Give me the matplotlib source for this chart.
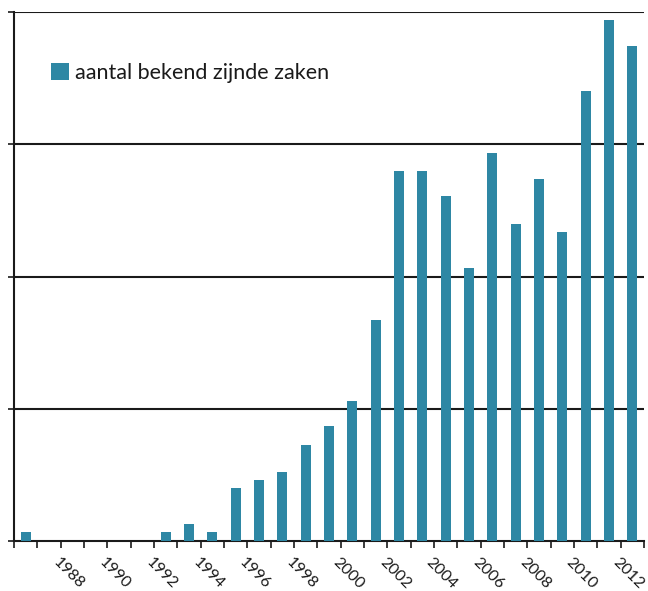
import matplotlib
matplotlib.use("Agg")
import matplotlib.pyplot as plt
import matplotlib.transforms as mtransforms

years = list(range(1986, 2013))
values = [3.4, 0, 0, 0, 0, 0, 3.4, 6.4, 3.4, 20, 23, 26, 36.4, 43.6, 53,
          83.7, 140, 140, 130.3, 103.4, 146.6, 120, 137, 116.7, 170, 197, 187]
label_years = list(range(1988, 2013, 2))
legend_label = "aantal bekend zijnde zaken"
bar_color = "#2e87a4"

plt.rcParams['font.family'] = ['Lato', 'DejaVu Sans']

fig = plt.figure(figsize=(6.48, 5.91), dpi=100)
ax = fig.add_axes([14/648, 50/591, 630/648, 529/591])

x = list(range(len(years)))
ax.bar(x, values, width=0.42, color=bar_color, zorder=3, label=legend_label)

ax.set_xlim(-0.5, len(years) - 0.5)
ax.set_ylim(0, 200)

for gy in [50, 100, 150, 200]:
    ax.axhline(gy, color="#1a1a1a", lw=1.5, zorder=2)

ax.set_yticks([0, 50, 100, 150, 200])
ax.set_yticklabels([])
ax.tick_params(axis='y', direction='out', length=4, width=1.2, color="#1a1a1a")

bounds = [i - 0.5 for i in range(len(years) + 1)]
ax.set_xticks(bounds)
ax.set_xticklabels([])
ax.tick_params(axis='x', direction='out', length=5, width=1.2, color="#1a1a1a")

for s in ['top', 'right']:
    ax.spines[s].set_visible(False)
for s in ['left', 'bottom']:
    ax.spines[s].set_color("#1a1a1a")
    ax.spines[s].set_linewidth(1.5)

offset = mtransforms.ScaledTranslation(-4/100, -14/100, fig.dpi_scale_trans)
for yr in label_years:
    i = years.index(yr)
    ax.text(i, 0, str(yr), transform=ax.get_xaxis_transform() + offset,
            rotation=-45, ha='center', va='top', fontsize=11.5, color="#1a1a1a")

leg = ax.legend(loc='upper left', bbox_to_anchor=(0.059, 0.903), frameon=False,
                fontsize=15.5, handlelength=0.84, handleheight=0.84,
                handletextpad=0.28, borderaxespad=0, borderpad=0)
for t in leg.get_texts():
    t.set_color("#1a1a1a")

fig.savefig("out.png", dpi=100)
